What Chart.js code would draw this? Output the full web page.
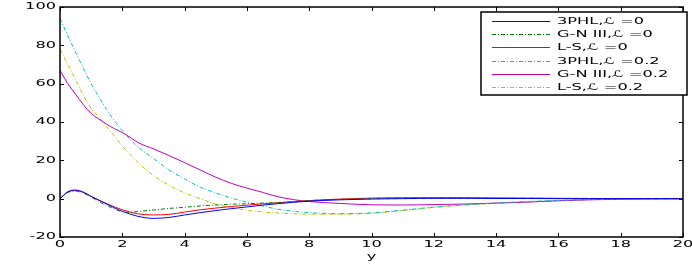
<!DOCTYPE html>
<html>
<head>
<meta charset="utf-8">
<script src="https://cdn.jsdelivr.net/npm/chart.js@4/dist/chart.umd.min.js"></script>
<style>
  html, body { margin: 0; padding: 0; background: #fff; }
  canvas { display: block; }
</style>
</head>
<body>
<canvas id="myChart" width="692" height="264"></canvas>
<script>
// data
var xs = [0, 0.25, 0.5, 0.75, 1, 1.25, 1.5, 1.75, 2, 2.25, 2.5, 3, 3.5, 4, 4.5, 5, 5.5, 6, 6.5, 7, 7.5, 8, 9, 10, 11, 12, 13, 14, 15, 16, 17, 18, 19, 20];

var phl0  = [0, 3.6, 4.5, 3.4, 1.2, -0.8, -2.8, -4.8, -6.6, -8.0, -9.2, -10.3, -9.8, -8.5, -7.3, -6.2, -5.2, -4.3, -3.4, -2.6, -1.9, -1.3, -0.6, -0.2, 0, 0.2, 0.2, 0.1, 0.1, 0, 0, 0, 0, 0];
var gn0   = [0, 3.2, 3.9, 2.9, 0.8, -1.6, -3.6, -5.4, -6.8, -7.1, -6.7, -5.9, -5.1, -4.5, -3.8, -3.3, -2.9, -2.6, -2.3, -2.0, -1.5, -1.0, -0.4, 0, 0.2, 0.3, 0.3, 0.2, 0.2, 0.1, 0.1, 0, 0, 0];
var ls0   = [0, 3.4, 4.3, 3.3, 1.2, -0.8, -2.6, -4.3, -5.8, -7.0, -7.9, -8.5, -8.2, -7.0, -5.8, -4.9, -4.1, -3.4, -2.7, -2.1, -1.6, -1.0, -0.2, 0.3, 0.5, 0.5, 0.5, 0.4, 0.3, 0.2, 0.1, 0.1, 0, 0];
var phl02 = [94, 85, 76.5, 68, 60, 53, 46.5, 40.5, 35.5, 31, 27, 21, 15, 10.3, 6, 3, 0.3, -1.8, -3.8, -5.5, -6.6, -7.3, -7.8, -7.4, -6, -4.4, -3.2, -2.3, -1.5, -0.9, -0.5, -0.3, -0.1, 0];
var gn02  = [67, 60, 54.5, 49, 44.5, 41.5, 38.8, 36.5, 34.5, 32, 29.3, 26, 22.5, 18.8, 15, 11.2, 8, 5.5, 3.3, 1, -0.5, -1.5, -2.5, -3.2, -3.3, -3.1, -2.8, -2.3, -1.8, -1.1, -0.6, -0.3, -0.1, 0];
var ls02  = [78, 70, 62, 54, 47, 42.5, 37.5, 32.5, 27.5, 23, 19, 12, 7, 3, 0, -2.9, -4.8, -6, -6.9, -7.5, -7.9, -8.1, -8.1, -7.6, -6.2, -4.6, -3.3, -2.4, -1.6, -1, -0.5, -0.3, -0.1, 0];

var names = ['3PHL,\u2112 =0', 'G-N III,\u2112 =0', 'L-S,\u2112 =0', '3PHL,\u2112 =0.2', 'G-N III,\u2112 =0.2', 'L-S,\u2112 =0.2'];
var xTicks = [0, 2, 4, 6, 8, 10, 12, 14, 16, 18, 20];
var yTicks = [-20, 0, 20, 40, 60, 80, 100];
var xLabel = 'y';

var colors = ['#0000ff', '#008000', '#ff0000', '#00bfbf', '#bf00bf', '#bfbf00'];
var dashes = [[], [4, 2, 1, 2], [], [4, 2, 1, 2], [], [4, 2, 1, 2]];
var series = [phl0, gn0, ls0, phl02, gn02, ls02];

function pts(arr) {
  return arr.map(function (v, i) { return { x: xs[i], y: v }; });
}

var datasets = series.map(function (s, i) {
  return {
    label: names[i],
    data: pts(s),
    borderColor: colors[i],
    borderWidth: 1,
    borderDash: dashes[i],
    pointRadius: 0,
    fill: false,
    cubicInterpolationMode: 'monotone'
  };
});

var font = "9px 'DejaVu Sans', sans-serif";
var stretch = 1.8;

// the reference text is wide and flat, so draw it squeezed out sideways
function wideText(ctx, txt, x, y, align) {
  ctx.save();
  ctx.font = font;
  ctx.textBaseline = 'middle';
  ctx.textAlign = 'left';
  var w = ctx.measureText(txt).width * stretch;
  var left = x;
  if (align === 'right') left = x - w;
  if (align === 'center') left = x - w / 2;
  ctx.translate(left, y);
  ctx.scale(stretch, 1);
  ctx.fillText(txt, 0, 0);
  ctx.restore();
}

// box with inward ticks on all four sides, plus the tick labels
var framePlugin = {
  id: 'frame',
  afterDatasetsDraw: function (chart) {
    var ctx = chart.ctx, a = chart.chartArea;
    var sx = chart.scales.x, sy = chart.scales.y;
    ctx.save();
    ctx.strokeStyle = '#000';
    ctx.fillStyle = '#000';
    ctx.lineWidth = 1;
    ctx.setLineDash([]);
    ctx.beginPath();
    xTicks.forEach(function (t) {
      var px = Math.round(sx.getPixelForValue(t)) + 0.5;
      ctx.moveTo(px, a.bottom); ctx.lineTo(px, a.bottom - 4);
      ctx.moveTo(px, a.top); ctx.lineTo(px, a.top + 4);
    });
    yTicks.forEach(function (t) {
      var py = Math.round(sy.getPixelForValue(t)) + 0.5;
      ctx.moveTo(a.left, py); ctx.lineTo(a.left + 4, py);
      ctx.moveTo(a.right, py); ctx.lineTo(a.right - 4, py);
    });
    ctx.stroke();
    ctx.lineWidth = 1.5;
    ctx.strokeRect(a.left, a.top, a.right - a.left, a.bottom - a.top);

    xTicks.forEach(function (t) {
      wideText(ctx, String(t), sx.getPixelForValue(t), a.bottom + 8, 'center');
    });
    yTicks.forEach(function (t) {
      wideText(ctx, String(t), a.left - 4, sy.getPixelForValue(t), 'right');
    });
    wideText(ctx, xLabel, (a.left + a.right) / 2, a.bottom + 20, 'center');
    ctx.restore();
  }
};

// legend box in the upper right corner
var legendPlugin = {
  id: 'boxLegend',
  afterDraw: function (chart) {
    var ctx = chart.ctx;
    var bx = 481, by = 12, bw = 206, bh = 83;
    ctx.save();
    ctx.fillStyle = '#fff';
    ctx.fillRect(bx, by, bw, bh);
    ctx.strokeStyle = '#000';
    ctx.lineWidth = 1.5;
    ctx.strokeRect(bx, by, bw, bh);
    ctx.lineWidth = 1;
    ctx.fillStyle = '#000';
    chart.data.datasets.forEach(function (ds, i) {
      var yy = Math.round(by + 8.7 + i * 13.3) + 0.5;
      ctx.strokeStyle = ds.borderColor;
      ctx.setLineDash(ds.borderDash);
      ctx.beginPath();
      ctx.moveTo(492, yy); ctx.lineTo(550, yy);
      ctx.stroke();
      ctx.setLineDash([]);
      wideText(ctx, ds.label, 557, yy, 'left');
    });
    ctx.restore();
  }
};

var ctx = document.getElementById('myChart').getContext('2d');
var myChart = new Chart(ctx, {
  type: 'line',
  data: { datasets: datasets },
  options: {
    responsive: false,
    animation: false,
    layout: { padding: { top: 7, right: 9, left: 0, bottom: 0 } },
    plugins: { legend: { display: false }, tooltip: { enabled: false } },
    scales: {
      x: {
        type: 'linear',
        min: 0, max: 20,
        grid: { display: false, drawTicks: false },
        border: { display: false },
        ticks: { display: false },
        afterFit: function (s) { s.height = 27; }
      },
      y: {
        min: -20, max: 100,
        grid: { display: false, drawTicks: false },
        border: { display: false },
        ticks: { display: false },
        afterFit: function (s) { s.width = 60; }
      }
    }
  },
  plugins: [framePlugin, legendPlugin]
});
</script>
</body>
</html>
